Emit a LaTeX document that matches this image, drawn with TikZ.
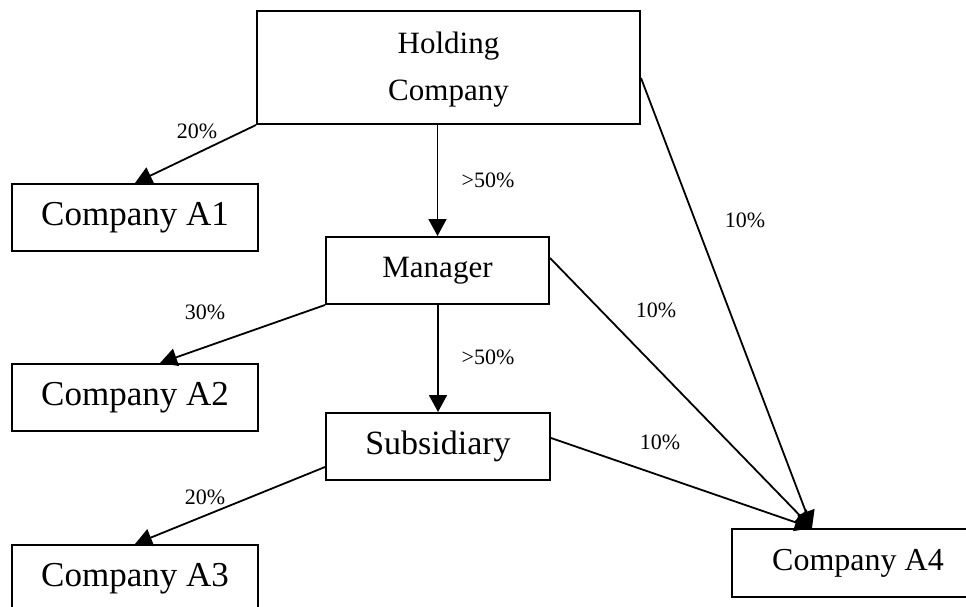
\documentclass[tikz,border=0pt]{standalone}
\usepackage{fontspec}
\setmainfont{Liberation Serif}
\usetikzlibrary{arrows.meta}
\tikzset{
  box/.style={draw, line width=2pt, inner sep=0pt, align=center, fill=white},
  conn/.style={line width=1.8pt, -{Triangle[width=18pt,length=17pt]}},
  pct/.style={inner sep=0pt, font=\fontsize{22}{26}\selectfont},
}
\begin{document}
\begin{tikzpicture}[x=1pt,y=-1pt]
\useasboundingbox (0,0) rectangle (966,607);
% boxes
\node[box, minimum width=383pt, minimum height=113pt, font=\fontsize{31}{47}\selectfont] (H) at (448.5,67.5) {\raisebox{-4pt}{\begin{tabular}{@{}c@{}}Holding\\Company\end{tabular}}};
\node[box, minimum width=246pt, minimum height=67pt, font=\fontsize{35}{40}\selectfont] (A1) at (135,217.5) {Company A1};
\node[box, minimum width=223pt, minimum height=67pt, font=\fontsize{31}{36}\selectfont] (M) at (437.5,270.5) {Manager};
\node[box, minimum width=246pt, minimum height=67pt, font=\fontsize{35}{40}\selectfont] (A2) at (135,397.5) {Company A2};
\node[box, minimum width=224pt, minimum height=67pt, font=\fontsize{34}{40}\selectfont] (S) at (438,446.5) {Subsidiary};
\node[box, minimum width=246pt, minimum height=67pt, font=\fontsize{35}{40}\selectfont] (A3) at (135,578.5) {Company A3};
\node[box, minimum width=252pt, minimum height=68pt, font=\fontsize{32}{38}\selectfont] (A4) at (858,563) {Company A4};
% connectors
\draw[conn] (H.south west) -- (A1.north);
\draw[conn] (M.north |- H.south) -- (M.north);
\draw[conn] ([yshift=-10.5pt]H.east) -- ([xshift=81pt]A4.north west);
\draw[conn] (M.south west) -- ([xshift=25pt]A2.north);
\draw[conn] (S.north |- M.south) -- (S.north);
\draw[conn] ([yshift=12.5pt]M.east) -- ([xshift=81pt]A4.north west);
\draw[conn] ([yshift=-20.5pt]S.west) -- (A3.north);
\draw[conn] ([yshift=8.5pt]S.east) -- ([xshift=81pt]A4.north west);
% labels
\node[pct] (l1) at (197,131) {20\%};
\node[pct] (l2) at (488,180) {>50\%};
\node[pct] (l3) at (745,220) {10\%};
\node[pct] (l4) at (205,312) {30\%};
\node[pct] (l5) at (656,310) {10\%};
\node[pct] (l6) at (488,357) {>50\%};
\node[pct] (l7) at (660,442) {10\%};
\node[pct] (l8) at (205,497) {20\%};
\end{tikzpicture}
\end{document}
